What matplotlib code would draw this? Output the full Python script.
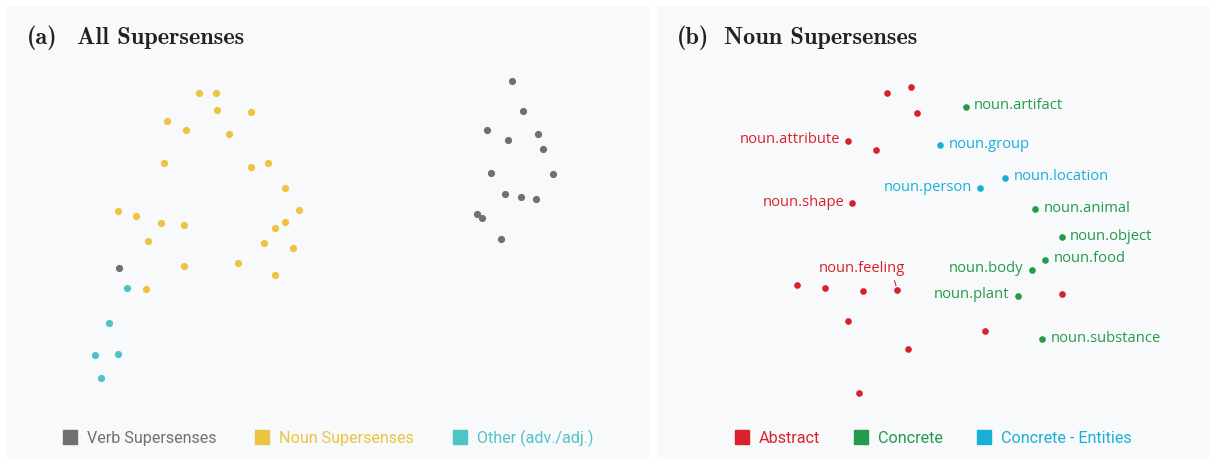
import matplotlib.pyplot as plt
from matplotlib.lines import Line2D

# panel (a): 2-d projection of all supersenses
verb_x = [511.7, 523.3, 487.3, 508, 538.3, 542.7, 490.7, 553, 505.3, 521, 536.3, 476.7, 482.3, 501, 119.3]
verb_y = [80.7, 110.7, 129.7, 139.7, 134.3, 148.7, 173.3, 174.3, 194.3, 197, 199.3, 213.7, 218.3, 239, 267.7]
noun_x = [199, 216, 217.3, 250.7, 167.3, 186, 228.7, 164, 250.7, 268, 285, 299, 118, 136, 161.3,
          184, 285.3, 275.3, 147.7, 264, 292.7, 184.3, 237.7, 275.3, 146.3]
noun_y = [93.3, 92.7, 110.3, 111.7, 121, 130.3, 134.3, 163, 167.3, 163.3, 188, 209.7, 211.3, 215.7, 223,
          225, 222.3, 228, 241, 242.7, 247.7, 266, 262.7, 275.3, 289.3]
other_x = [127, 109, 94.7, 118.3, 101]
other_y = [288, 322.7, 355.3, 354, 377.7]

# panel (b): noun supersenses only
abstract_x = [887.3, 911, 917.3, 848, 876, 852.3, 797.3, 825.3, 863, 897.3, 1062, 848.3, 984.7, 907.7, 858.7]
abstract_y = [93.3, 87, 113, 141, 150.3, 203.3, 285, 288.3, 291, 289.7, 294.3, 321.3, 331.3, 348.7, 392.7]
concrete_x = [965.7, 1035.3, 1062, 1045.3, 1031.7, 1017.7, 1042.3]
concrete_y = [106.7, 209, 237, 260, 270, 295.7, 339]
entity_x = [940.3, 1005.3, 980.3]
entity_y = [145.3, 177.7, 188.3]

# labelled points: (label, x, y, side, group)
labels = [
    ("noun.attribute", 848, 141, "left", "abstract"),
    ("noun.shape", 852.3, 203.3, "left", "abstract"),
    ("noun.artifact", 965.7, 106.7, "right", "concrete"),
    ("noun.animal", 1035.3, 209, "right", "concrete"),
    ("noun.object", 1062, 237, "right", "concrete"),
    ("noun.food", 1045.3, 260, "right", "concrete"),
    ("noun.body", 1031.7, 270, "left", "concrete"),
    ("noun.plant", 1017.7, 295.7, "left", "concrete"),
    ("noun.substance", 1042.3, 339, "right", "concrete"),
    ("noun.group", 940.3, 145.3, "right", "entity"),
    ("noun.location", 1005.3, 177.7, "right", "entity"),
    ("noun.person", 980.3, 188.3, "left", "entity"),
]

GRAY = "#707070"
YELLOW = "#ecc441"
TEAL = "#4fc4c6"
RED = "#d7222c"
GREEN = "#239b4b"
BLUE = "#19b0d6"
BG = "#f8f9fb"
colors = {"abstract": RED, "concrete": GREEN, "entity": BLUE}

W, H = 1210, 461
fig = plt.figure(figsize=(W / 100, H / 100), dpi=100)
fig.patch.set_facecolor("white")


def panel(x0, x1, y0, y1):
    ax = fig.add_axes([x0 / W, 1 - y1 / H, (x1 - x0) / W, (y1 - y0) / H])
    ax.set_xlim(x0, x1)
    ax.set_ylim(y1, y0)
    ax.set_facecolor(BG)
    ax.set_xticks([])
    ax.set_yticks([])
    for s in ax.spines.values():
        s.set_visible(False)
    return ax


def title(ax, tag, text, x0, x1):
    ax.text(x0, 44, tag, fontfamily="cmb10", fontsize=17.5, color="#222222", va="baseline")
    ax.text(x1, 44, text, fontfamily="cmb10", fontsize=17.5, color="#222222", va="baseline")


def legend(ax, names, cols, spacing):
    handles = [Line2D([], [], marker="s", linestyle="none", markersize=9.5, color=c) for c in cols]
    leg = ax.legend(handles, names, loc="center", bbox_to_anchor=(0.5, (459 - 438) / 453),
                    ncol=3, frameon=False, handlelength=0.9, handletextpad=0.6,
                    columnspacing=spacing, prop={"family": "Roboto", "size": 11.6})
    for t, c in zip(leg.get_texts(), cols):
        t.set_color(c)


ax1 = panel(7, 649, 6, 459)
ax1.scatter(noun_x, noun_y, s=27, color=YELLOW, linewidths=0, zorder=3)
ax1.scatter(verb_x, verb_y, s=27, color=GRAY, linewidths=0, zorder=3)
ax1.scatter(other_x, other_y, s=27, color=TEAL, linewidths=0, zorder=3)
title(ax1, "(a)", "All Supersenses", 27, 77)
legend(ax1, ["Verb Supersenses", "Noun Supersenses", "Other (adv./adj.)"],
       [GRAY, YELLOW, TEAL], 2.4)

ax2 = panel(657, 1209, 6, 459)
ax2.scatter(abstract_x, abstract_y, s=23, color=RED, linewidths=0, zorder=3)
ax2.scatter(concrete_x, concrete_y, s=23, color=GREEN, linewidths=0, zorder=3)
ax2.scatter(entity_x, entity_y, s=23, color=BLUE, linewidths=0, zorder=3)
for name, x, y, side, kind in labels:
    dx = 8 if side == "right" else -8
    ax2.text(x + dx, y - 1, name, ha="left" if side == "right" else "right", va="center",
             fontfamily="Open Sans", fontsize=10.6, color=colors[kind])
ax2.annotate("noun.feeling", xy=(897.3, 289.7), xytext=(862, 269), ha="center", va="center",
             fontfamily="Open Sans", fontsize=10.6, color=RED,
             arrowprops=dict(arrowstyle="-", color=RED, lw=0.8, relpos=(0.86, 0.0),
                             shrinkA=1, shrinkB=3))
title(ax2, "(b)", "Noun Supersenses", 677, 724)
legend(ax2, ["Abstract", "Concrete", "Concrete - Entities"], [RED, GREEN, BLUE], 2.1)

fig.savefig("out.png", dpi=100, facecolor="white")
